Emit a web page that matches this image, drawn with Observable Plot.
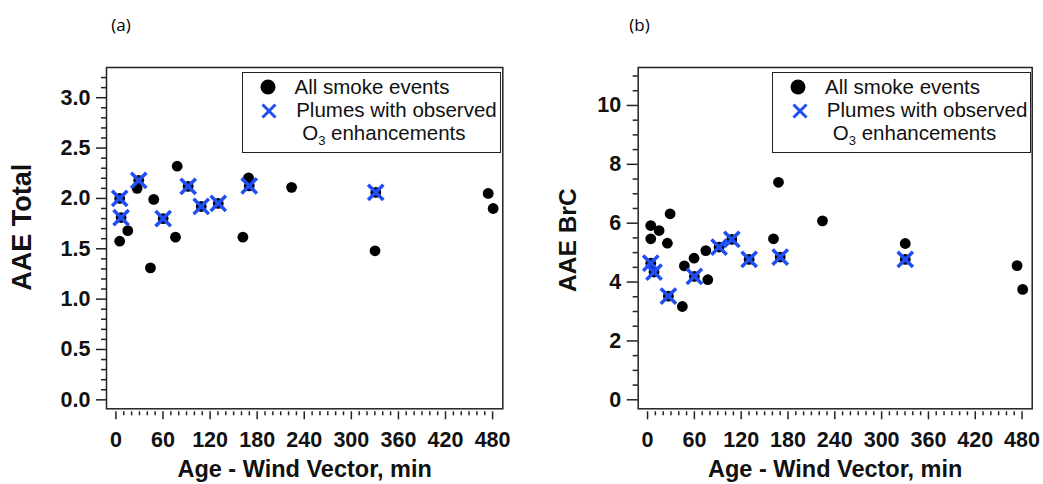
<!DOCTYPE html>
<html>
<head>
<meta charset="utf-8">
<script src="https://cdn.jsdelivr.net/npm/d3@7"></script>
<script src="https://cdn.jsdelivr.net/npm/@observablehq/plot@0.6"></script>
<style>
  body { margin: 0; background: #fff; }
  #wrap { position: relative; width: 1043px; height: 484px; display: flex; font-family: "Liberation Sans", Arial, sans-serif; }
  #wrap svg { display: block; }
  .legend { position: absolute; top: 71.7px; height: 81px; border: 1.5px solid #222; background: #fff; box-sizing: border-box; font-size: 20.5px; color: #111; z-index: 2; }
  .legend .t { position: absolute; white-space: nowrap; line-height: 1; }
  .legend svg { position: absolute; width: 20px; height: 20px; overflow: visible; }
  .legend sub { font-size: 13px; vertical-align: -5px; line-height: 0; }
  .letter { position: absolute; top: 14px; font-family: "Open Sans", "Liberation Sans", sans-serif; font-size: 17px; line-height: 1.3; color: #000; transform: translateX(-50%); z-index: 2; }
</style>
</head>
<body>
<div id="wrap"></div>
<script>
// ---- Data ----
// Panel (a): Age (min) vs AAE Total; o3A = 1 marks plumes with observed O3 enhancements
const ageA     = [4.8, 6.6, 4.8, 15.1, 27.0, 29.1, 44.0, 48.2, 60.2, 75.9, 78.1, 92.1, 108.7, 130.4, 161.8, 169.0, 169.9, 223.9, 331.1, 330.2, 474.4, 480.7];
const aaeTotal = [2.00, 1.81, 1.575, 1.68, 2.10, 2.18, 1.31, 1.99, 1.80, 1.615, 2.32, 2.12, 1.92, 1.95, 1.615, 2.205, 2.125, 2.11, 2.06, 1.48, 2.05, 1.90];
const o3A      = [1, 1, 0, 0, 0, 1, 0, 0, 1, 0, 0, 1, 1, 1, 0, 0, 1, 0, 1, 0, 0, 0];

// Panel (b): Age (min) vs AAE BrC
const ageB     = [4.1, 4.1, 14.8, 4.1, 8.3, 25.4, 28.9, 26.7, 44.6, 47.2, 59.6, 60.0, 74.7, 77.2, 91.7, 108.0, 130.2, 161.4, 167.8, 170.0, 224.2, 330.3, 330.3, 473.6, 480.8];
const aaeBrC   = [5.92, 5.47, 5.75, 4.64, 4.34, 5.32, 6.32, 3.52, 3.17, 4.55, 4.81, 4.19, 5.07, 4.08, 5.19, 5.45, 4.77, 5.47, 7.39, 4.85, 6.08, 5.31, 4.77, 4.56, 3.75];
const o3B      = [0, 0, 0, 1, 1, 0, 0, 1, 0, 0, 0, 1, 0, 0, 1, 1, 1, 0, 0, 1, 0, 0, 1, 0, 0];

const xTicks = [0, 60, 120, 180, 240, 300, 360, 420, 480];
const xMinorTicks = d3.range(0, 481, 10).filter(v => v % 60 !== 0);
const yTicksA = [0, 0.5, 1.0, 1.5, 2.0, 2.5, 3.0];
const yMinorA = d3.range(0, 33).map(i => i / 10).filter(v => Math.round(v * 10) % 5 !== 0);
const yTicksB = [0, 2, 4, 6, 8, 10];
const yMinorB = d3.range(0, 23).map(i => i / 2).filter(v => v % 2 !== 0);

const xTitle = "Age - Wind Vector, min";
const legendLabels = ["All smoke events", "Plumes with observed", "O<sub>3</sub> enhancements"];
const panelLetters = ["(a)", "(b)"];

const FONT = "Liberation Sans, Arial, Helvetica, sans-serif";
const BLUE = "#1f4ef5";
const INK = "#222";

function panel(o) {
  const data = o.age.map((a, i) => ({age: a, v: o.val[i], o3: o.o3[i]}));
  return Plot.plot({
    width: o.width, height: 484,
    marginLeft: o.ml, marginRight: o.mr, marginTop: 67, marginBottom: 75.7,
    style: {fontFamily: FONT, background: "white", color: INK, overflow: "visible"},
    x: {domain: [-12, 493]},
    y: {domain: o.yDomain},
    marks: [
      Plot.frame({stroke: INK, strokeWidth: 1.5}),
      Plot.axisY({ticks: o.yMinor, tickSize: 5, tickFormat: () => "", label: null, stroke: INK, strokeWidth: 1.5}),
      Plot.axisY({ticks: o.yTicks, tickSize: o.tickY, tickPadding: 6, tickFormat: o.yFmt, label: null,
        fontSize: 21.5, fontWeight: "bold", stroke: INK, strokeWidth: 1.5, fill: "#111"}),
      Plot.axisX({ticks: xMinorTicks, tickSize: 4, tickFormat: () => "", label: null, dy: 3, stroke: INK, strokeWidth: 1.5}),
      Plot.axisX({ticks: xTicks, tickSize: 8, tickPadding: 12, tickFormat: d3.format("d"), label: null, dy: 3,
        fontSize: 21.5, fontWeight: "bold", stroke: INK, strokeWidth: 1.5, fill: "#111"}),
      Plot.text([o.yLabel], {frameAnchor: "left", dx: o.ylDx, dy: o.ylDy, rotate: -90, textAnchor: "middle",
        fontSize: o.ylSize, fontWeight: "bold", fill: "#111"}),
      Plot.text([xTitle], {frameAnchor: "bottom", dy: 61, textAnchor: "middle", lineAnchor: "middle",
        fontSize: 23.5, fontWeight: "bold", fill: "#111"}),
      Plot.dot(data, {x: "age", y: "v", r: 5.4, fill: "black"}),
      Plot.dot(data.filter(d => d.o3), {x: "age", y: "v", symbol: "times", r: 7, stroke: BLUE, strokeWidth: 3.5})
    ]
  });
}

const wrap = document.getElementById("wrap");
wrap.append(panel({
  age: ageA, val: aaeTotal, o3: o3A, width: 521, ml: 106, mr: 18.7,
  yDomain: [-0.089, 3.30], yTicks: yTicksA, yMinor: yMinorA, yFmt: d3.format(".1f"), tickY: 10,
  yLabel: "AAE Total", ylDx: -84, ylDy: -11, ylSize: 27
}));
wrap.append(panel({
  age: ageB, val: aaeBrC, o3: o3B, width: 522, ml: 116.7, mr: 11.3,
  yDomain: [-0.306, 11.29], yTicks: yTicksB, yMinor: yMinorB, yFmt: d3.format("d"), tickY: 11,
  yLabel: "AAE BrC", ylDx: -70, ylDy: 2, ylSize: 24.5
}));

function letter(text, cx) {
  const div = document.createElement("div");
  div.className = "letter";
  div.style.left = cx + "px";
  div.textContent = text;
  wrap.append(div);
}
letter(panelLetters[0], 121);
letter(panelLetters[1], 639.5);

function legend(left, width) {
  const div = document.createElement("div");
  div.className = "legend";
  div.style.left = left + "px";
  div.style.width = width + "px";
  div.innerHTML = `
    <svg style="left:15.1px;top:4.1px"><circle cx="10" cy="10" r="7.5" fill="black"/></svg>
    <div class="t" style="left:51.8px;top:4.3px">${legendLabels[0]}</div>
    <svg style="left:16.8px;top:28.5px"><path d="M3.5,3.5L16.5,16.5M3.5,16.5L16.5,3.5" stroke="${BLUE}" stroke-width="3"/></svg>
    <div class="t" style="left:53.5px;top:27.1px">${legendLabels[1]}</div>
    <div class="t" style="left:59.5px;top:50.6px">${legendLabels[2]}</div>`;
  wrap.append(div);
}
legend(241.7, 259);
legend(772.3, 258.5);
</script>
</body>
</html>
